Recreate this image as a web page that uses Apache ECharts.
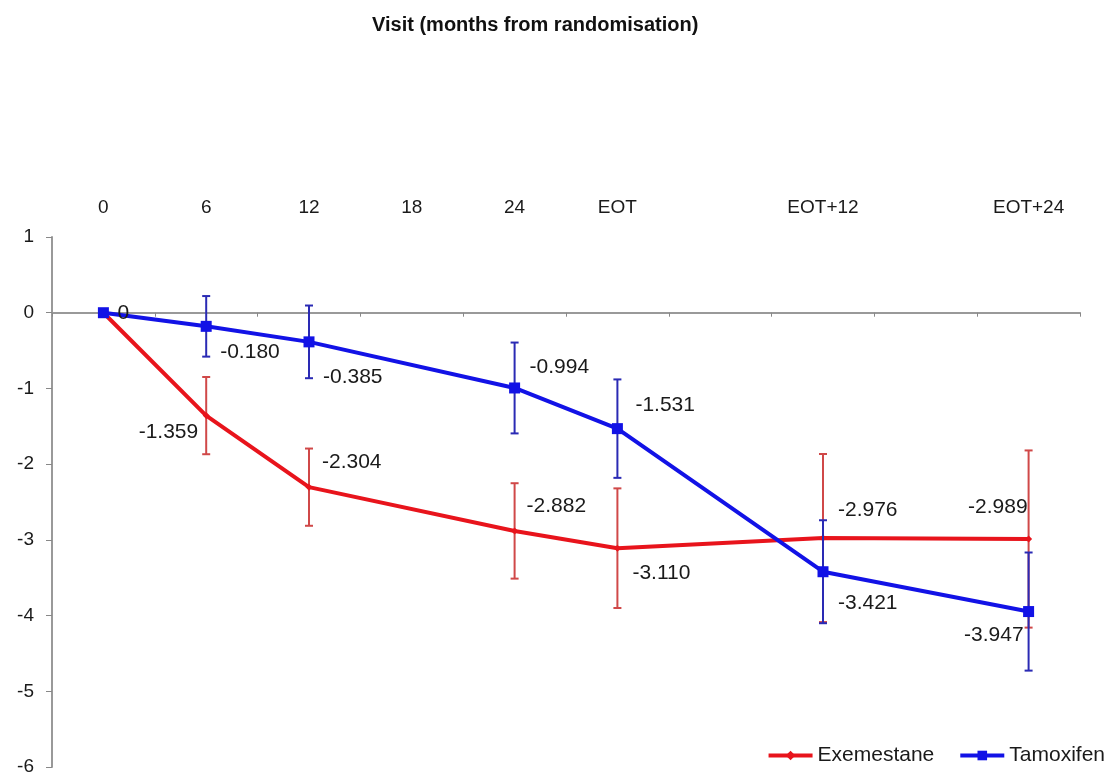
<!DOCTYPE html>
<html>
<head>
<meta charset="utf-8">
<script src="https://cdn.jsdelivr.net/npm/echarts@6/dist/echarts.min.js"></script>
<style>
html,body{margin:0;padding:0;background:#fff;}
#chart{width:1107px;height:778px;}
</style>
</head>
<body>
<div id="chart"></div>
<script>
// ---- data ----
var categories = ['0', '6', '12', '18', '24', 'EOT', '', 'EOT+12', '', 'EOT+24'];
var exemestane = [0, -1.359, -2.304, null, -2.882, -3.110, null, -2.976, null, -2.989];
var tamoxifen  = [0, -0.180, -0.385, null, -0.994, -1.531, null, -3.421, null, -3.947];
// half-width of the error bars
var exemestaneErr = [null, 0.51, 0.51, null, 0.63, 0.79, null, 1.11, null, 1.17];
var tamoxifenErr  = [null, 0.40, 0.48, null, 0.60, 0.65, null, 0.68, null, 0.78];
var yTicks = { min: -6, max: 1, interval: 1 };
var titleText = 'Visit (months from randomisation)';

// ---- styling (label placements) ----
var exeLabelPos = [null, ['left', 0.5, 17], ['right', 4.5, -25], null, ['right', 3.5, -25], ['right', 6.5, 25], null, ['right', 6.5, -28], null, ['left', 7.5, -32]];
var tamLabelPos = [['right', 3.5, 0], ['right', 3.5, 26], ['right', 3.5, 35], null, ['right', 4.5, -21], ['right', 7.5, -23], null, ['right', 4.5, 31], null, ['left', 5.5, 24]];

var RED = '#e8141c', RED_ERR = '#d04848', BLUE = '#1212e6', BLUE_ERR = '#2a2ab4';
var FONT = 'Liberation Sans, Arial, sans-serif';

function fmt(v) { return v === 0 ? '0' : v.toFixed(3); }

function lineData(vals, pos) {
  return vals.map(function (v, i) {
    if (v === null) return null;
    var p = pos[i];
    var item = { value: v };
    if (p) {
      item.label = { show: true, position: p[0], offset: [p[1], p[2]] };
    } else {
      item.label = { show: false };
    }
    return item;
  });
}

function errData(vals, errs) {
  var out = [];
  vals.forEach(function (v, i) {
    if (v !== null && errs[i] !== null) out.push([i, v - errs[i], v + errs[i]]);
  });
  return out;
}

function errRender(color) {
  return function (params, api) {
    var lo = api.coord([api.value(0), api.value(1)]);
    var hi = api.coord([api.value(0), api.value(2)]);
    var cap = 4;
    var style = { stroke: color, lineWidth: 2 };
    return {
      type: 'group',
      children: [
        { type: 'line', shape: { x1: lo[0], y1: lo[1], x2: hi[0], y2: hi[1] }, style: style },
        { type: 'line', shape: { x1: lo[0] - cap, y1: lo[1], x2: lo[0] + cap, y2: lo[1] }, style: style },
        { type: 'line', shape: { x1: hi[0] - cap, y1: hi[1], x2: hi[0] + cap, y2: hi[1] }, style: style }
      ]
    };
  };
}

var chart = echarts.init(document.getElementById('chart'), null, { renderer: 'canvas' });
var labelStyle = { fontFamily: FONT, fontSize: 21, color: '#1a1a1a' };

chart.setOption({
  backgroundColor: '#fff',
  animation: false,
  title: {
    text: titleText,
    left: 367, top: 10,
    textStyle: { fontFamily: FONT, fontSize: 20, fontWeight: 'bold', color: '#111' }
  },
  legend: {
    data: ['Exemestane', 'Tamoxifen'],
    right: -3, top: 740,
    itemWidth: 44, itemHeight: 12, itemGap: 24,
    lineStyle: { width: 4 },
    textStyle: { fontFamily: FONT, fontSize: 21, color: '#1a1a1a' }
  },
  grid: { left: 52, right: 27, top: 237, bottom: 11, containLabel: false },
  xAxis: [
    {
      type: 'category', data: categories, position: 'top',
      axisLine: { show: false }, axisTick: { show: false },
      axisLabel: { interval: 0, margin: 20, fontFamily: FONT, fontSize: 19, color: '#1a1a1a' },
      splitLine: { show: false }
    },
    {
      type: 'category', data: categories, position: 'bottom',
      axisLine: { show: true, onZero: true, onZeroAxisIndex: 0, lineStyle: { color: '#999', width: 2 } },
      axisTick: { show: true, interval: 0, length: 4, lineStyle: { color: '#888', width: 1 } },
      axisLabel: { show: false },
      splitLine: { show: false }
    }
  ],
  yAxis: {
    type: 'value', min: yTicks.min, max: yTicks.max, interval: yTicks.interval,
    axisLine: { show: true, onZero: false, lineStyle: { color: '#999', width: 2 } },
    axisTick: { show: true, length: 6, lineStyle: { color: '#888' } },
    axisLabel: { margin: 18, fontFamily: FONT, fontSize: 19, color: '#1a1a1a' },
    splitLine: { show: false }
  },
  series: [
    {
      type: 'custom', name: 'exeErr', xAxisIndex: 0,
      renderItem: errRender(RED_ERR), data: errData(exemestane, exemestaneErr), z: 2, silent: true
    },
    {
      name: 'Exemestane', type: 'line', xAxisIndex: 0, connectNulls: true,
      data: lineData(exemestane, exeLabelPos),
      symbol: 'diamond', symbolSize: 7, showAllSymbol: true,
      itemStyle: { color: RED }, lineStyle: { color: RED, width: 4 },
      label: Object.assign({ formatter: function (p) { return fmt(p.value); } }, labelStyle),
      z: 3
    },
    {
      type: 'custom', name: 'tamErr', xAxisIndex: 0,
      renderItem: errRender(BLUE_ERR), data: errData(tamoxifen, tamoxifenErr), z: 4, silent: true
    },
    {
      name: 'Tamoxifen', type: 'line', xAxisIndex: 0, connectNulls: true,
      data: lineData(tamoxifen, tamLabelPos),
      symbol: 'rect', symbolSize: 11, showAllSymbol: true,
      itemStyle: { color: BLUE }, lineStyle: { color: BLUE, width: 4 },
      label: Object.assign({ formatter: function (p) { return fmt(p.value); } }, labelStyle),
      z: 5
    }
  ]
});
</script>
</body>
</html>
